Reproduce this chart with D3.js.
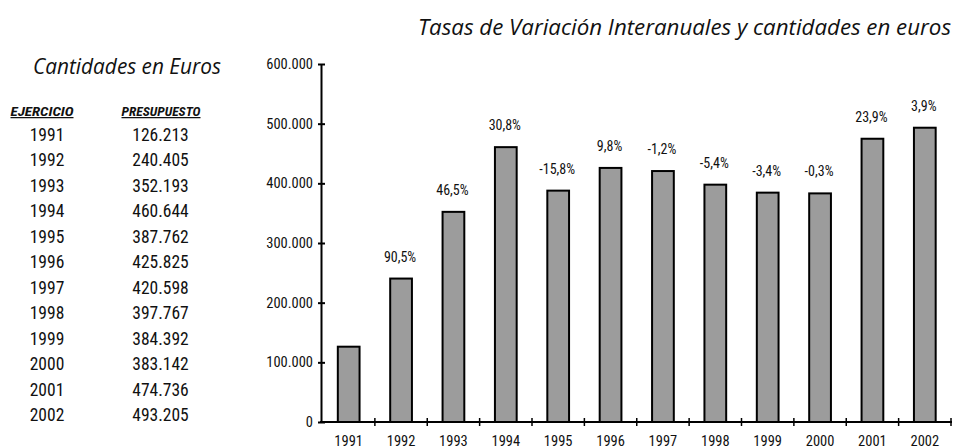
<!DOCTYPE html>
<html><head><meta charset="utf-8">
<script src="https://cdn.jsdelivr.net/npm/d3@7"></script>
<style>body{margin:0;background:#fff}svg{display:block}</style>
</head><body>
<svg id="c" width="956" height="448"></svg>
<script>
const years = ["1991","1992","1993","1994","1995","1996","1997","1998","1999","2000","2001","2002"];
const amounts = [126213,240405,352193,460644,387762,425825,420598,397767,384392,383142,474736,493205];
const amountLabels = ["126.213","240.405","352.193","460.644","387.762","425.825","420.598","397.767","384.392","383.142","474.736","493.205"];
const rates = ["","90,5%","46,5%","30,8%","-15,8%","9,8%","-1,2%","-5,4%","-3,4%","-0,3%","23,9%","3,9%"];
const yTicks = [0,100000,200000,300000,400000,500000,600000];
const yTickLabels = ["0","100.000","200.000","300.000","400.000","500.000","600.000"];
const title = "Tasas de Variación Interanuales y cantidades en euros";
const tableTitle = "Cantidades en Euros";
const colHeaders = ["EJERCICIO","PRESUPUESTO"];

const svg = d3.select("#c");
const condensed = "'Liberation Sans Narrow','Roboto Condensed','Arial Narrow',Roboto,sans-serif";
const humanist = "'Open Sans','Noto Sans',sans-serif";

const x = d3.scaleBand().domain(years).range([322.5,951]).paddingInner(0.585).paddingOuter(0.2925);
const y = d3.scaleLinear().domain([0,600000]).range([422,64]);
const step = x.step();

// title
svg.append("text").attr("x",951).attr("y",35).attr("text-anchor","end")
  .attr("font-family",humanist).attr("font-style","italic").attr("font-size",21)
  .attr("textLength",533).attr("lengthAdjust","spacingAndGlyphs")
  .attr("fill","#111").text(title);

// bars
svg.append("g").selectAll("rect").data(years).join("rect")
  .attr("x",d=>x(d)).attr("width",x.bandwidth())
  .attr("y",(d,i)=>y(amounts[i])).attr("height",(d,i)=>y(0)-y(amounts[i]))
  .attr("fill","#9c9c9c").attr("stroke","#000").attr("stroke-width",2);

// rate labels
svg.append("g").selectAll("text").data(years).join("text")
  .attr("x",d=>x(d)+x.bandwidth()/2-1).attr("y",(d,i)=>y(amounts[i])-17)
  .attr("text-anchor","middle").attr("font-family",condensed).attr("font-size",14)
  .attr("fill","#111").text((d,i)=>rates[i]);

// y axis
const yAxis = d3.axisLeft(y).tickValues(yTicks).tickFormat((d,i)=>yTickLabels[i]).tickSize(0).tickPadding(8);
const gy = svg.append("g").attr("transform","translate(321,0)").call(yAxis);
gy.select(".domain").attr("stroke","#000").attr("stroke-width",2);
gy.selectAll(".tick line").attr("x1",-3).attr("x2",4).attr("stroke","#000").attr("stroke-width",2);
gy.selectAll(".tick text").attr("font-family",condensed).attr("font-size",14.5).attr("fill","#111");

// x axis with ticks at band boundaries
const gx = svg.append("g").attr("transform","translate(0,422)");
gx.append("line").attr("x1",320).attr("x2",952).attr("stroke","#000").attr("stroke-width",2);
gx.selectAll("line.t").data(years).join("line").attr("class","t")
  .attr("x1",d=>x(d)+x.bandwidth()/2+step/2).attr("x2",d=>x(d)+x.bandwidth()/2+step/2)
  .attr("y1",-4).attr("y2",4).attr("stroke","#000").attr("stroke-width",1.5);
gx.selectAll("text").data(years).join("text")
  .attr("x",d=>x(d)+x.bandwidth()/2).attr("y",23.5).attr("text-anchor","middle")
  .attr("font-family",condensed).attr("font-size",14.5).attr("fill","#111").text(d=>d);

// table
svg.append("text").attr("x",33).attr("y",74).attr("font-family",humanist).attr("font-style","italic")
  .attr("font-size",21).attr("textLength",188).attr("lengthAdjust","spacingAndGlyphs")
  .attr("fill","#111").text(tableTitle);
const hx = [42,161];
const hw = [63,79];
colHeaders.forEach((h,i)=>{
  svg.append("text").attr("x",hx[i]-hw[i]/2).attr("y",116)
    .attr("font-family",condensed).attr("font-weight","bold").attr("font-style","italic")
    .attr("font-size",12.5).attr("textLength",hw[i]).attr("lengthAdjust","spacingAndGlyphs")
    .attr("text-decoration","underline").attr("fill","#111").text(h);
});
const rowY = d3.scaleLinear().domain([0,11]).range([141,421]);
svg.append("g").selectAll("text").data(years).join("text")
  .attr("x",47).attr("y",(d,i)=>rowY(i)).attr("text-anchor","middle")
  .attr("font-family",condensed).attr("font-size",17.5).attr("fill","#111").text(d=>d);
svg.append("g").selectAll("text").data(amountLabels).join("text")
  .attr("x",160.5).attr("y",(d,i)=>rowY(i)).attr("text-anchor","middle")
  .attr("font-family",condensed).attr("font-size",17.5).attr("fill","#111").text(d=>d);
</script>
</body></html>
